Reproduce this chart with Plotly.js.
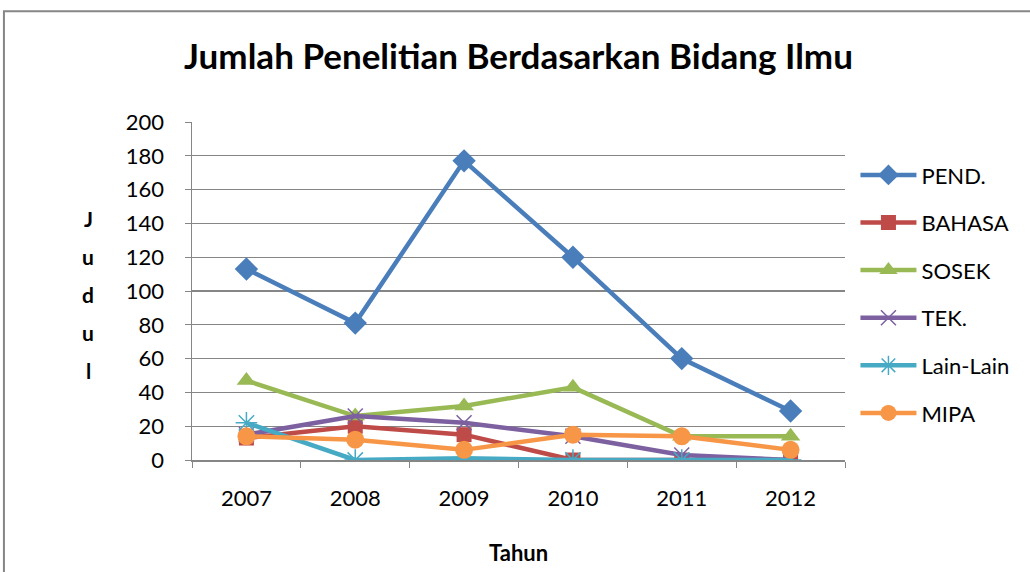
<!DOCTYPE html>
<html><head><meta charset="utf-8">
<script src="https://cdn.plot.ly/plotly-3.0.1.min.js"></script>
<style>html,body{margin:0;padding:0;background:#fff;}#chart{width:1030px;height:572px;}</style>
</head><body><div id="chart"></div>
<script>
const years = ['2007','2008','2009','2010','2011','2012'];
const pend = [113, 81, 177, 120, 60, 29];
const bahasa = [13, 20, 15, 0, 0, 0];
const sosek = [47, 26, 32, 43, 14, 14];
const tek = [15, 26, 22, 14, 3, 0];
const lainLain = [22, 0, 1, 0, 0, 0];
const mipa = [14, 12, 6, 15, 14, 6];
const yTicks = [0,20,40,60,80,100,120,140,160,180,200];
const yTitleLetters = ['J','u','d','u','l'];

const font = 'Lato, "Open Sans", sans-serif';
function tr(name, y, color, symbol, size, open) {
  return {
    x: years, y: y, name: name, type: 'scatter', mode: 'lines+markers',
    legendgroup: name,
    line: {color: color, width: 4.5},
    marker: open ? {symbol: symbol, size: size, color: color, line: {color: color, width: 1.5}}
                 : {symbol: symbol, size: size, color: color, line: {width: 0}}
  };
}
const data = [
  tr('PEND.', pend, '#4A7EBB', 'diamond', 18),
  tr('BAHASA', bahasa, '#BE4B48', 'square', 15),
  tr('SOSEK', sosek, '#98B954', 'triangle-up', 17),
  tr('TEK.', tek, '#7D60A0', 'x-thin-open', 15, true),
  tr('Lain-Lain', lainLain, '#46AAC5', 'asterisk-open', 18, true),
  tr('MIPA', mipa, '#F79646', 'circle', 18)
];
const annotations = [
  {text: '<b>Tahun</b>', xref: 'paper', yref: 'paper', x: 0.5, y: -0.275, yanchor: 'middle', showarrow: false, font: {size: 22}}
];
yTitleLetters.forEach((ch, i) => {
  annotations.push({text: '<b>' + ch + '</b>', xref: 'paper', yref: 'paper', x: -0.159, xanchor: 'center',
    y: (460 - (218 + i * 38)) / 338, yanchor: 'middle', showarrow: false, font: {size: 21}});
});
const layout = {
  width: 1030, height: 572,
  margin: {l: 192, r: 185, t: 122, b: 112},
  paper_bgcolor: '#fff', plot_bgcolor: '#fff',
  font: {family: font, size: 22, color: '#000'},
  showlegend: true,
  title: {text: '<b>Jumlah Penelitian Berdasarkan Bidang Ilmu</b>', font: {family: font, size: 35, color: '#000'}, x: 0.5, xref: 'paper', y: 0.9, yref: 'container', yanchor: 'middle'},
  xaxis: {type: 'category', tickson: 'boundaries', ticks: 'outside', ticklen: 6, tickcolor: '#868686',
          showline: true, linecolor: '#868686', linewidth: 1.5, showgrid: false, zeroline: false,
          ticklabelstandoff: 18, tickfont: {size: 22}, range: [-0.5, 5.5], fixedrange: true},
  yaxis: {range: [0, 200], tickvals: yTicks, ticks: 'outside', ticklen: 6, tickcolor: '#868686',
          showline: true, linecolor: '#868686', linewidth: 1.5, gridcolor: '#868686', gridwidth: 1.2,
          zeroline: false, ticklabelstandoff: 16, tickfont: {size: 22}},
  legend: {x: 1.016, xanchor: 'left', y: 0.905, yanchor: 'top', font: {size: 22}, itemwidth: 56,
           tracegroupgap: 16, bgcolor: 'rgba(0,0,0,0)'},
  annotations: annotations,
  shapes: [
    {type: 'rect', xref: 'paper', yref: 'paper', x0: -0.288, x1: 1.8, y0: -1, y1: 1.328, line: {color: '#868686', width: 2}, layer: 'below'}
  ]
};
Plotly.newPlot('chart', data, layout, {displayModeBar: false, staticPlot: true});
</script></body></html>
